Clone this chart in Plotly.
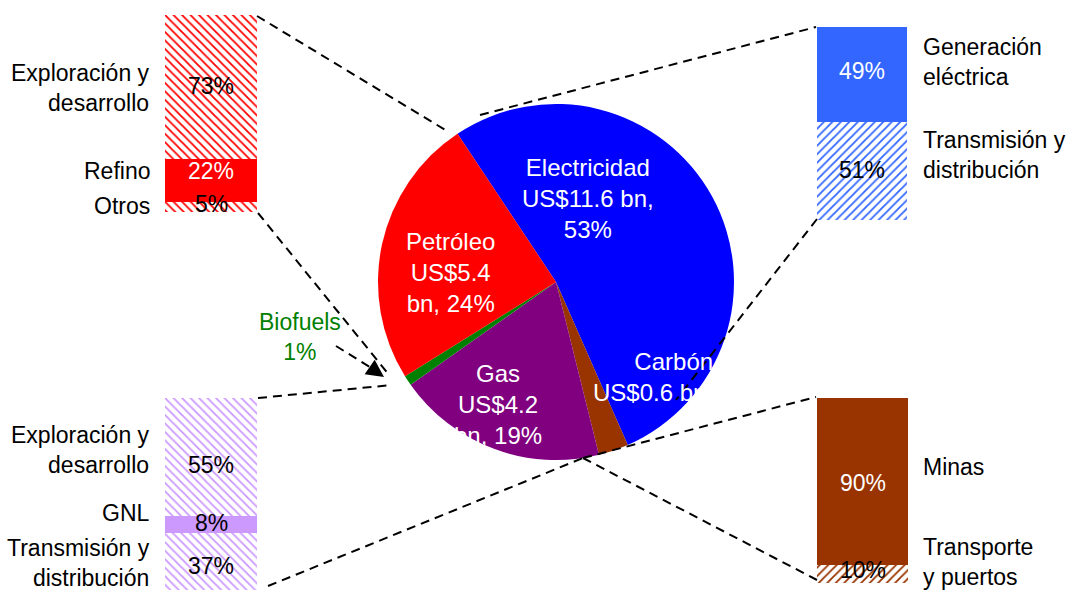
import plotly.graph_objects as go

W, H = 1066, 590

# ---------------- data ----------------
sectors = ["Electricidad", "Carbón", "Gas", "Biofuels", "Petróleo"]
investment_bn = [11.6, 0.6, 4.2, 0.2, 5.4]
sector_pct = [53, 3, 19, 1, 24]

oil_parts = ["Exploración y<br>desarrollo", "Refino", "Otros"]
oil_pct = [73, 22, 5]

elec_parts = ["Generación<br>eléctrica", "Transmisión y<br>distribución"]
elec_pct = [49, 51]

gas_parts = ["Exploración y<br>desarrollo", "GNL", "Transmisión y<br>distribución"]
gas_pct = [55, 8, 37]

coal_parts = ["Minas", "Transporte<br>y puertos"]
coal_pct = [90, 10]

# ---------------- styles ----------------
FONT = "Liberation Sans, Arial, sans-serif"
sector_colors = ["#0000FF", "#993300", "#800080", "#008000", "#FF0000"]
label_templates = {
    "Electricidad": "{n}<br>US${v} bn,<br>{p}%",
    "Carbón": "{n}<br>US${v} bn, {p}%",
    "Gas": "{n}<br>US${v}<br>bn, {p}%",
    "Petróleo": "{n}<br>US${v}<br>bn, {p}%",
}
label_px = {"Electricidad": (588, 198), "Petróleo": (450, 272),
            "Gas": (498, 405), "Carbón": (673, 377)}


def px(x, y):
    return x / W, 1 - y / H


fig = go.Figure()

# ---------------- pie ----------------
fig.add_trace(go.Pie(
    labels=sectors, values=investment_bn, sort=False, direction="clockwise",
    rotation=-33.6, textinfo="none", hoverinfo="label+value",
    marker=dict(colors=sector_colors, line=dict(width=0)),
    domain=dict(x=[378 / W, 734 / W], y=[1 - 460 / H, 1 - 104 / H]),
    showlegend=False,
))

annotations = []
for name, v, p in zip(sectors, investment_bn, sector_pct):
    if name not in label_templates:
        continue
    x, y = px(*label_px[name])
    annotations.append(dict(
        x=x, y=y, xref="paper", yref="paper", showarrow=False,
        xanchor="center", yanchor="middle",
        text=label_templates[name].format(n=name, v=v, p=p),
        font=dict(family=FONT, size=24, color="white"), align="center"))

# Biofuels label
bi = sectors.index("Biofuels")
bx, by = px(300, 337)
annotations.append(dict(
    x=bx, y=by, xref="paper", yref="paper", showarrow=False,
    xanchor="center", yanchor="middle",
    text=f"{sectors[bi]}<br>{sector_pct[bi]}%",
    font=dict(family=FONT, size=23, color="#008000"), align="center"))
ax_, ay_ = px(384, 377)
annotations.append(dict(
    x=ax_, y=ay_, xref="paper", yref="paper", text="", showarrow=True,
    ax=-10, ay=-7, arrowhead=2, arrowsize=1.4, arrowwidth=2.5, arrowcolor="black"))

# ---------------- breakdown bars ----------------
# (parts, pct, colour, hatched, text colours, bar x px, bar y px, side,
#  hatch shape, y max, % label y px, side label y px)
bars = [
    (oil_parts, oil_pct, "#FF0000", [True, False, True], ["black", "white", "black"],
     (165, 257), (15, 212), "left", "\\", 100, [86, 171, 204], [88, 171, 206]),
    (elec_parts, elec_pct, "#3366FF", [False, True], ["white", "black"],
     (817, 907), (27, 220), "right", "/", 100, [71, 170], [62, 155]),
    (gas_parts, gas_pct, "#CC99FF", [True, False, True], ["black", "black", "black"],
     (165, 257), (398, 590), "left", "\\", 89.7, [465, 523, 566], [450, 513, 563]),
    (coal_parts, coal_pct, "#993300", [False, True], ["white", "black"],
     (817, 908), (398, 583), "right", "/", 100, [483, 570], [467, 562]),
]

layout_axes = {}
for i, (parts, pct, col, hatched, tcols, (x0, x1), (y0, y1), side, shp, ymax,
        pct_y, lab_y) in enumerate(bars, start=1):
    sfx = "" if i == 1 else str(i)
    xa, ya = "x" + sfx, "y" + sfx
    xc = (x0 + x1) / 2
    for part, v, h, tc, py_, ly in zip(parts, pct, hatched, tcols, pct_y, lab_y):
        if h:
            marker = dict(color="white", line=dict(width=0),
                          pattern=dict(shape=shp, fgcolor=col, bgcolor="white",
                                       size=6, solidity=0.3, fillmode="replace"))
        else:
            marker = dict(color=col, line=dict(width=0))
        plain = part.replace("<br>", " ")
        fig.add_trace(go.Bar(x=[0], y=[v], width=1, xaxis=xa, yaxis=ya,
                             marker=marker, showlegend=False, name=plain,
                             hovertemplate=f"{plain}: {v}%<extra></extra>"))
        annotations.append(dict(x=xc / W, y=1 - py_ / H, xref="paper", yref="paper",
                                xanchor="center", yanchor="middle", showarrow=False,
                                text=f"{v}%",
                                font=dict(family=FONT, size=23, color=tc)))
        if side == "left":
            annotations.append(dict(x=152 / W, y=1 - ly / H, xref="paper", yref="paper",
                                    xanchor="right", yanchor="middle", showarrow=False,
                                    align="right", text=part,
                                    font=dict(family=FONT, size=23, color="black")))
        else:
            annotations.append(dict(x=921 / W, y=1 - ly / H, xref="paper", yref="paper",
                                    xanchor="left", yanchor="middle", showarrow=False,
                                    align="left", text=part,
                                    font=dict(family=FONT, size=23, color="black")))
    layout_axes["xaxis" + sfx] = dict(domain=[x0 / W, x1 / W], range=[-0.5, 0.5],
                                      visible=False, anchor=ya, fixedrange=True)
    layout_axes["yaxis" + sfx] = dict(domain=[max(0, 1 - y1 / H), 1 - y0 / H],
                                      range=[ymax, 0], visible=False, anchor=xa,
                                      fixedrange=True)

# ---------------- dashed connectors ----------------
connectors = [
    ((257, 16), (447, 131)),
    ((258, 213), (390, 376)),
    ((258, 398), (392, 385)),
    ((268, 586), (583, 458)),
    ((583, 458), (816, 397)),
    ((583, 458), (817, 580)),
    ((480, 115), (816, 27)),
    ((817, 219), (676, 400)),
    ((336, 346), (378, 372)),
]
shapes = []
for (xa0, ya0), (xa1, ya1) in connectors:
    p0, p1 = px(xa0, ya0), px(xa1, ya1)
    shapes.append(dict(type="line", xref="paper", yref="paper",
                       x0=p0[0], y0=p0[1], x1=p1[0], y1=p1[1],
                       line=dict(color="black", width=2, dash="9px,6px"),
                       layer="above"))

fig.update_layout(
    width=W, height=H, margin=dict(l=0, r=0, t=0, b=0),
    paper_bgcolor="white", plot_bgcolor="white",
    barmode="stack", showlegend=False,
    annotations=annotations, shapes=shapes,
    font=dict(family=FONT),
    **layout_axes,
)

fig.write_html("out.html")
